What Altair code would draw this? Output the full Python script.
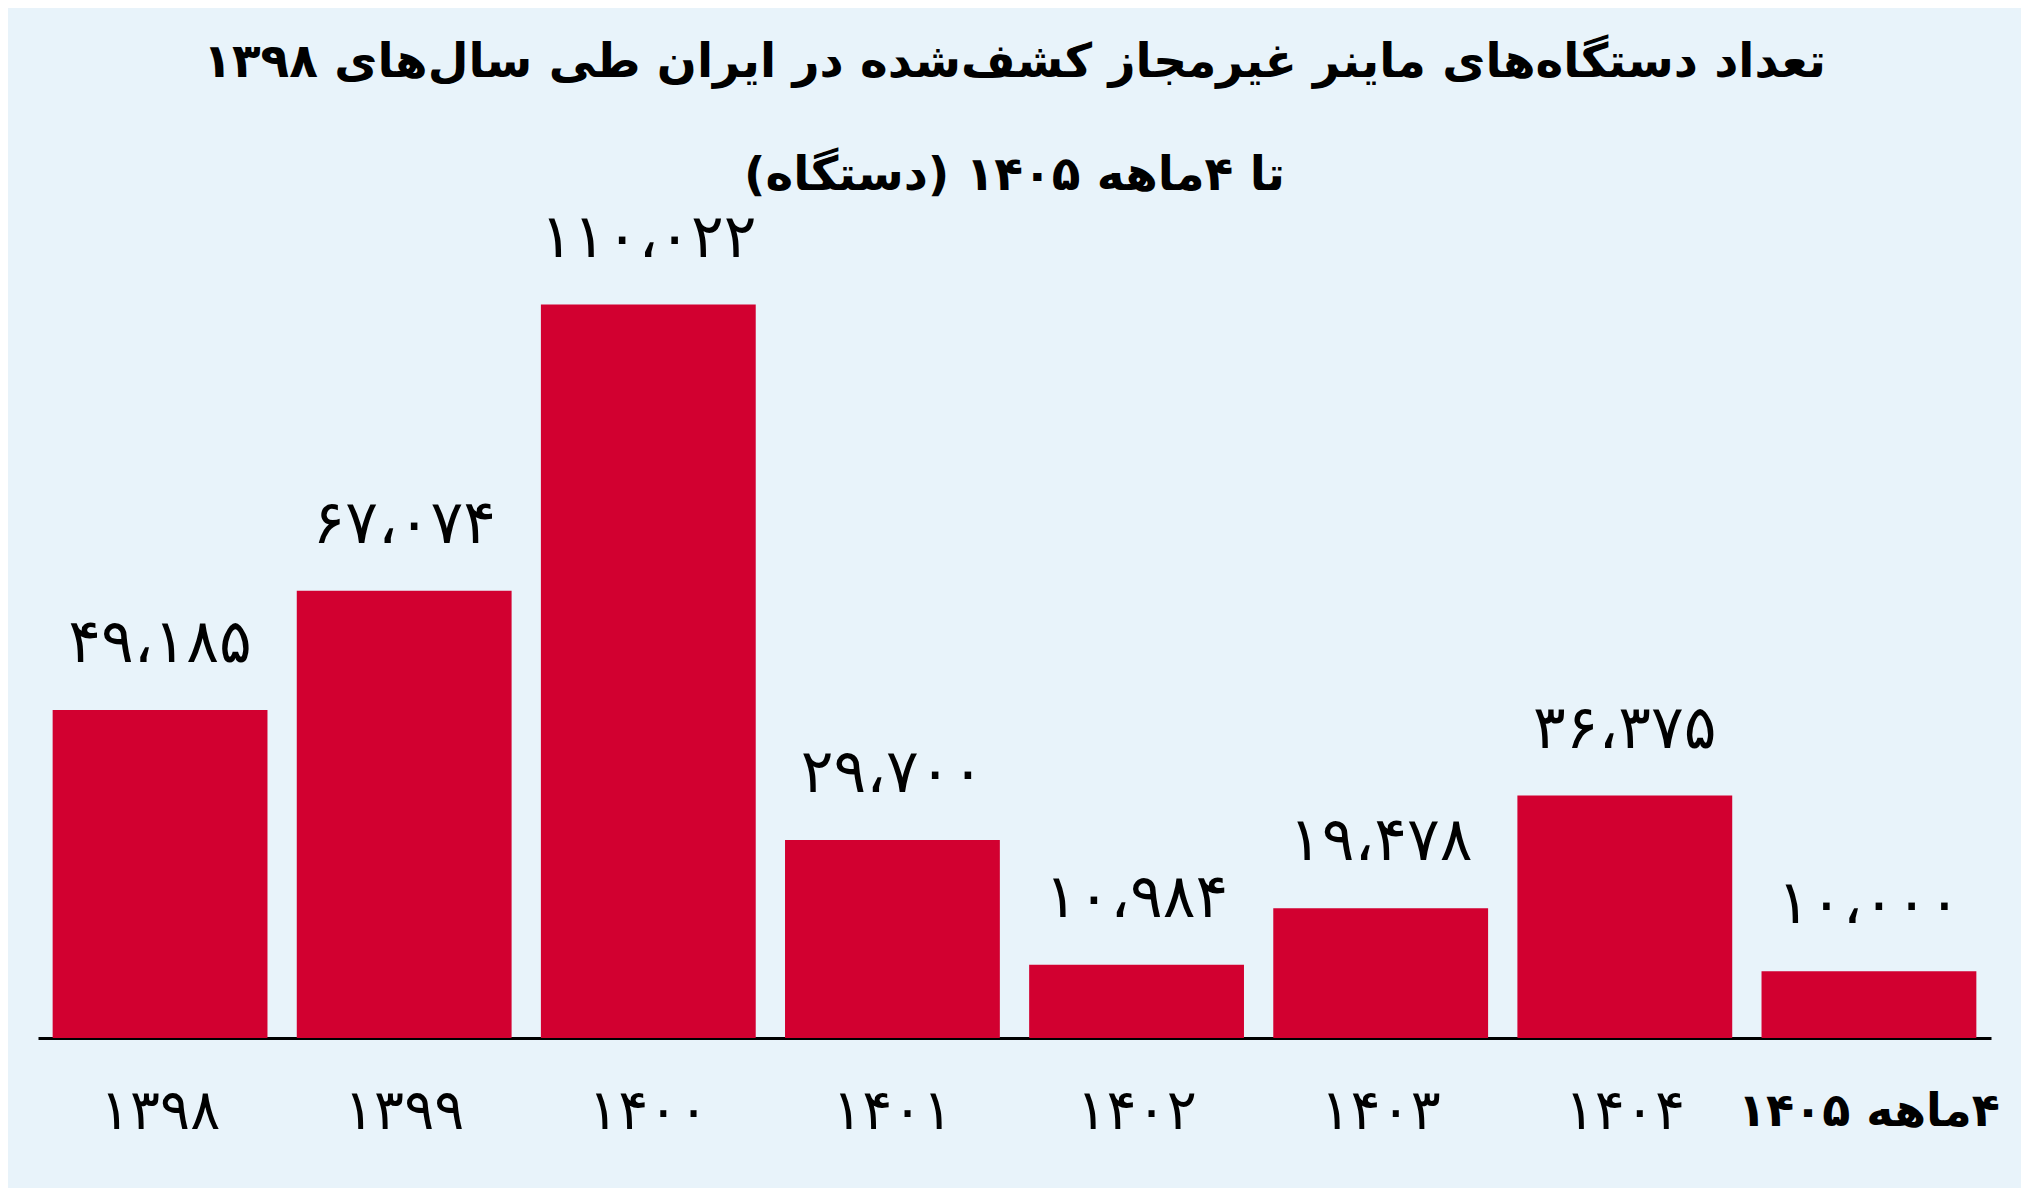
import altair as alt
import pandas as pd

years = ["۱۳۹۸", "۱۳۹۹", "۱۴۰۰", "۱۴۰۱", "۱۴۰۲", "۱۴۰۳", "۱۴۰۴", "۴ماهه ۱۴۰۵"]
devices = [49185, 67074, 110022, 29700, 10984, 19478, 36375, 10000]
device_labels = ["۴۹،۱۸۵", "۶۷،۰۷۴", "۱۱۰،۰۲۲", "۲۹،۷۰۰", "۱۰،۹۸۴", "۱۹،۴۷۸", "۳۶،۳۷۵", "۱۰،۰۰۰"]
title_lines = [
    "تعداد دستگاه‌های ماینر غیرمجاز کشف‌شده در ایران طی سال‌های ۱۳۹۸",
    "تا ۴ماهه ۱۴۰۵ (دستگاه)",
]

RLE, PDF = "\u202b", "\u202c"


def rtl(s):
    return RLE + s + PDF


df = pd.DataFrame({
    "year": [rtl(s) for s in years],
    "value": devices,
    "label": device_labels,
})

FONT = "DejaVu Sans"
BAR = "#D20030"
BG = "#E8F3FA"

x = alt.X(
    "year:N",
    sort=None,
    title=None,
    scale=alt.Scale(paddingInner=0.12, paddingOuter=0.06),
    axis=alt.Axis(
        labelAngle=0,
        ticks=False,
        tickSize=0,
        domainColor="#000000",
        domainWidth=3,
        labelFont=FONT,
        labelFontSize=alt.expr("indexof(datum.label, 'ماهه') >= 0 ? 46 : 56"),
        labelFontWeight=alt.expr("indexof(datum.label, 'ماهه') >= 0 ? 'bold' : 'normal'"),
        labelColor="#000000",
        labelBaseline="middle",
        labelPadding=73,
        labelLimit=600,
        labelOverlap=False,
        grid=False,
    ),
)

y = alt.Y(
    "value:Q",
    scale=alt.Scale(domain=[0, 120000], nice=False, zero=True),
    axis=None,
)

bars = alt.Chart(df).mark_bar(color=BAR).encode(x=x, y=y)

texts = alt.Chart(df).mark_text(
    font=FONT,
    fontSize=61,
    color="#000000",
    baseline="alphabetic",
    dy=-48,
).encode(x=alt.X("year:N", sort=None), y="value:Q", text="label:N")

chart = (
    alt.layer(bars, texts)
    .properties(
        width=1953,
        height=800,
        background=BG,
        padding={"left": 30, "top": 230, "right": 30, "bottom": 150},
        autosize=alt.AutoSizeParams(type="none"),
        title=alt.TitleParams(
            text=[rtl(t) for t in title_lines],
            font=FONT,
            fontSize=47,
            fontWeight="bold",
            color="#000000",
            anchor="middle",
            frame="group",
            lineHeight=113,
            baseline="alphabetic",
            offset=-29,
        ),
    )
    .configure_view(stroke=None)
)

chart.save("out.html", embed_options={"renderer": "svg", "actions": False})
